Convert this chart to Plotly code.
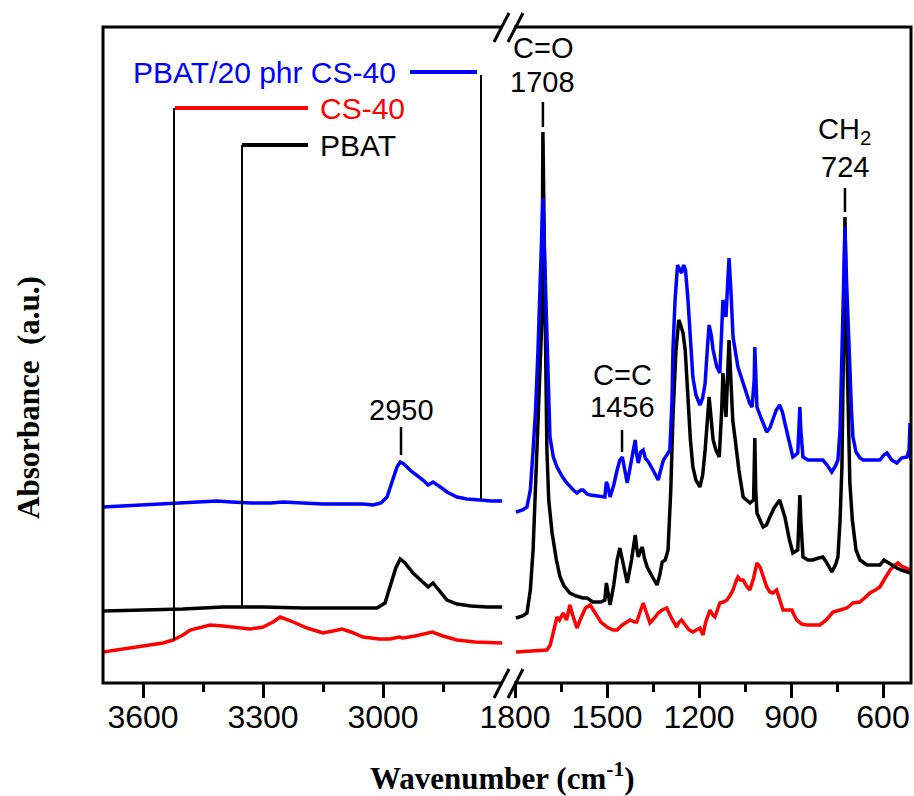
import plotly.graph_objects as go

# ---------------- data (wavenumber cm-1, absorbance a.u. with stacking offset) -------------
blue_left_wn = [3700, 3650, 3600, 3550, 3500, 3450, 3415, 3380, 3330, 3280, 3250, 3200, 3150, 3100, 3050,
                3025, 3005, 2990, 2975, 2965, 2957, 2948, 2930, 2910, 2900, 2887, 2875, 2860, 2840, 2815,
                2790, 2757, 2730, 2702]
blue_left_ab = [176, 177, 178, 179, 180, 181, 182, 181, 180, 180, 181, 180, 179, 179, 179,
                178, 180, 186, 203, 216, 221, 219, 212, 206, 203, 198, 201, 197, 191, 186,
                184, 183, 182, 182]

black_left_wn = [3700, 3600, 3500, 3400, 3300, 3200, 3100, 3015, 2995, 2980, 2968, 2957, 2945, 2925, 2900,
                 2887, 2875, 2860, 2840, 2815, 2780, 2740, 2702]
black_left_ab = [72, 73, 74, 76, 76, 75, 75, 75, 80, 98, 115, 124, 120, 110, 101,
                 96, 100, 93, 83, 79, 77, 76, 76]

red_left_wn = [3700, 3650, 3600, 3550, 3525, 3500, 3482, 3455, 3432, 3400, 3360, 3332, 3300, 3275, 3257,
               3230, 3190, 3150, 3125, 3102, 3080, 3050, 3010, 2982, 2960, 2950, 2920, 2895, 2877, 2850,
               2815, 2770, 2702]
red_left_ab = [31, 34, 37, 40, 43, 48, 53, 56, 58, 57, 55, 54, 56, 61, 66,
               62, 55, 50, 52, 54, 51, 46, 44, 44, 46, 45, 47, 49, 51, 47,
               43, 41, 40]

blue_right_wn = [1797, 1775, 1761, 1750, 1741, 1733, 1725, 1718, 1712, 1709, 1705, 1700, 1696, 1690, 1686,
                 1675, 1663, 1645, 1631, 1610, 1598, 1585, 1578, 1565, 1555, 1530, 1507, 1502, 1498, 1490,
                 1478, 1467, 1458, 1450, 1442, 1434, 1420, 1408, 1403, 1398, 1390, 1382, 1375, 1365, 1350,
                 1333, 1325, 1316, 1305, 1295, 1288, 1285, 1278, 1270, 1262, 1257, 1250, 1244, 1236, 1228,
                 1220, 1210, 1197, 1188, 1180, 1172, 1167, 1160, 1154, 1142, 1132, 1126, 1122, 1116, 1112,
                 1106, 1102, 1096, 1089, 1073, 1060, 1050, 1035, 1027, 1020, 1018, 1015, 1011, 995, 979,
                 969, 959, 948, 937, 928, 920, 905, 894, 885, 878, 873, 871, 868, 861, 845,
                 829, 810, 796, 785, 767, 755, 747, 740, 734, 729, 724, 719, 714, 708, 703,
                 698, 688, 675, 665, 640, 610, 597, 587, 572, 555, 540, 522, 515, 512, 510]
blue_right_ab = [171, 173, 176, 193, 233, 273, 333, 393, 443, 485, 443, 383, 333, 283, 246,
                 226, 216, 206, 200, 193, 190, 193, 193, 189, 188, 187, 186, 201, 198, 186,
                 198, 213, 223, 226, 213, 200, 223, 243, 228, 220, 231, 233, 225, 221, 213,
                 203, 213, 223, 228, 233, 283, 333, 383, 418, 413, 410, 418, 413, 383, 343,
                 306, 288, 278, 285, 300, 338, 358, 348, 333, 316, 310, 353, 383, 378, 366,
                 403, 425, 393, 346, 316, 303, 293, 280, 276, 303, 336, 303, 276, 263, 251,
                 255, 263, 273, 278, 271, 260, 238, 226, 228, 230, 263, 276, 253, 226, 223,
                 223, 223, 223, 219, 211, 217, 223, 253, 333, 403, 456, 403, 353, 316, 273,
                 246, 231, 225, 223, 223, 223, 228, 230, 223, 220, 225, 226, 233, 260, 223]

black_right_wn = [1797, 1775, 1761, 1750, 1741, 1733, 1725, 1718, 1712, 1709, 1705, 1700, 1696, 1690, 1679,
                  1665, 1653, 1640, 1621, 1600, 1578, 1565, 1546, 1520, 1507, 1502, 1498, 1490, 1478, 1467,
                  1458, 1450, 1442, 1434, 1420, 1408, 1403, 1398, 1390, 1385, 1378, 1369, 1350, 1337, 1328,
                  1320, 1310, 1301, 1292, 1285, 1275, 1266, 1262, 1252, 1245, 1236, 1228, 1220, 1210, 1197,
                  1188, 1180, 1172, 1167, 1160, 1154, 1145, 1134, 1126, 1122, 1116, 1112, 1106, 1102, 1096,
                  1090, 1083, 1070, 1056, 1034, 1022, 1018, 1015, 1011, 991, 980, 969, 955, 937, 928,
                  920, 905, 894, 878, 873, 871, 868, 861, 845, 829, 810, 796, 785, 767, 755,
                  747, 740, 734, 729, 724, 719, 714, 708, 700, 688, 675, 652, 630, 610, 597,
                  587, 570, 555, 540, 522, 510]
black_right_ab = [65, 67, 70, 93, 133, 193, 266, 323, 366, 551, 433, 303, 233, 183, 150,
                  123, 106, 97, 90, 87, 85, 85, 81, 81, 83, 100, 93, 78, 98, 123,
                  135, 123, 108, 100, 123, 148, 135, 126, 133, 136, 125, 116, 105, 98, 108,
                  121, 123, 133, 193, 266, 333, 363, 360, 350, 333, 283, 243, 216, 203, 196,
                  208, 233, 268, 286, 263, 243, 233, 226, 273, 310, 283, 266, 313, 343, 303,
                  263, 246, 213, 186, 180, 183, 245, 193, 170, 156, 158, 166, 175, 183, 175,
                  166, 143, 130, 133, 173, 188, 163, 126, 123, 123, 125, 126, 121, 111, 118,
                  126, 163, 216, 333, 466, 353, 263, 200, 163, 133, 123, 118, 118, 118, 123,
                  121, 117, 115, 113, 111, 110]

red_right_wn = [1797, 1760, 1730, 1696, 1685, 1673, 1663, 1655, 1643, 1632, 1621, 1612, 1598, 1585, 1570,
                1555, 1540, 1520, 1500, 1480, 1467, 1450, 1435, 1425, 1410, 1403, 1392, 1382, 1372, 1360,
                1345, 1333, 1320, 1305, 1290, 1273, 1265, 1257, 1245, 1232, 1220, 1208, 1197, 1187, 1178,
                1164, 1155, 1148, 1140, 1132, 1120, 1109, 1100, 1089, 1080, 1073, 1065, 1056, 1045, 1034,
                1022, 1011, 1001, 990, 979, 969, 959, 947, 937, 926, 912, 897, 890, 881, 865,
                848, 825, 806, 785, 763, 740, 718, 698, 676, 660, 643, 625, 610, 593, 577,
                562, 551, 540, 522, 510]
red_right_ab = [31, 32, 32, 33, 38, 55, 66, 63, 70, 63, 78, 68, 55, 65, 75,
                78, 71, 61, 56, 53, 53, 58, 61, 63, 61, 61, 71, 80, 71, 60,
                65, 70, 73, 75, 65, 56, 61, 63, 58, 53, 51, 53, 55, 48, 61,
                73, 68, 66, 73, 80, 81, 83, 87, 93, 101, 106, 103, 103, 97, 93,
                105, 120, 116, 105, 96, 91, 90, 93, 83, 73, 73, 73, 68, 63, 59,
                58, 58, 58, 63, 71, 73, 75, 80, 81, 85, 90, 93, 96, 105, 113,
                118, 120, 117, 115, 113]

left_ticks = [3600, 3300, 3000]
left_minor = [3450, 3150, 2850]
right_ticks = [1800, 1500, 1200, 900, 600]
right_minor = [1650, 1350, 1050, 750]

series_names = ["PBAT/20 phr CS-40", "CS-40", "PBAT"]
peak_labels = [("2950", None, 2955), ("C=O", "1708", 1709), ("C=C", "1456", 1451), ("CH<sub>2</sub>", "724", 724)]

# ---------------- figure ----------------
W, H = 914, 796
# plot frame in window pixels
FX0, FX1, FY0, FY1 = 103, 911, 27, 683
L, R, T, B = FX0, W - FX1, FY0, H - FY1
PW, PH = FX1 - FX0, FY1 - FY0


def px(x):
    return (x - FX0) / PW


def py(y):
    return (FY1 - y) / PH


BLUE, RED, BLACK = "#0000ff", "#ff0000", "#000000"
LW = 3.5

fig = go.Figure()
for xs, ys, col, xa in [
    (red_left_wn, red_left_ab, RED, "x"), (red_right_wn, red_right_ab, RED, "x2"),
    (black_left_wn, black_left_ab, BLACK, "x"), (black_right_wn, black_right_ab, BLACK, "x2"),
    (blue_left_wn, blue_left_ab, BLUE, "x"), (blue_right_wn, blue_right_ab, BLUE, "x2"),
]:
    fig.add_trace(go.Scatter(x=xs, y=ys, mode="lines", line=dict(color=col, width=LW),
                             xaxis=xa, yaxis="y", showlegend=False, hoverinfo="skip"))

tickfont = dict(family="Liberation Sans, Arial", size=32, color="black")
axis_common = dict(showline=False, showgrid=False, zeroline=False, ticks="outside", ticklen=14,
                   tickwidth=3, tickcolor="black", tickfont=tickfont, automargin=False, anchor="y",
                   ticklabelstandoff=-8)

fig.update_layout(
    width=W, height=H, margin=dict(l=L, r=R, t=T, b=B),
    paper_bgcolor="white", plot_bgcolor="white",
    xaxis=dict(domain=[0, px(503)], range=[3700, 2700], tickmode="array", tickvals=left_ticks,
               ticktext=[str(v) for v in left_ticks],
               minor=dict(tickmode="array", tickvals=left_minor, ticks="outside", ticklen=8,
                          tickwidth=3, tickcolor="black", showgrid=False), **axis_common),
    xaxis2=dict(domain=[px(507), 1], range=[1800 + (515 - 507) / 0.3067, 600 - (911 - 883) / 0.3067],
                tickmode="array", tickvals=right_ticks, ticktext=[str(v) for v in right_ticks],
                minor=dict(tickmode="array", tickvals=right_minor, ticks="outside", ticklen=8,
                           tickwidth=3, tickcolor="black", showgrid=False), **axis_common),
    yaxis=dict(domain=[0, 1], range=[0, PH], visible=False, fixedrange=True),
)

shapes = []
# frame
shapes.append(dict(type="rect", xref="paper", yref="paper", x0=0, x1=1, y0=0, y1=1,
                   line=dict(color="black", width=3)))
# axis breaks (top and bottom)
for yc in (FY1, FY0):
    shapes.append(dict(type="rect", xref="paper", yref="paper", x0=px(502), x1=px(514),
                       y0=py(yc + 4), y1=py(yc - 4), fillcolor="white", line=dict(width=0)))
    for x0 in (494, 508):
        shapes.append(dict(type="line", xref="paper", yref="paper", x0=px(x0), y0=py(yc + 15),
                           x1=px(x0 + 15), y1=py(yc - 14), line=dict(color="black", width=3)))

# legend lines + connectors (left panel data coords)
leg = [  # (line x0, x1, y, colour, connector x, connector bottom y, connector top y)
    (2932.5, 2765, 611, BLUE, 2755, 183, 608),
    (3520, 3187.5, 575, RED, 3522.5, 43, 575),
    (3352.5, 3187.5, 538, BLACK, 3352.5, 76, 538),
]
for x0, x1, yy, col, cx, cb, ct in leg:
    shapes.append(dict(type="line", xref="x", yref="y", x0=x0, x1=x1, y0=yy, y1=yy,
                       line=dict(color=col, width=4)))
    shapes.append(dict(type="line", xref="x", yref="y", x0=cx, x1=cx, y0=ct, y1=cb,
                       line=dict(color="black", width=2)))

# peak marker lines
peak_lines = [("x", 2955, 256, 228), ("x2", 1709, 581, 556), ("x2", 1451, 253, 231), ("x2", 724, 495, 471)]
for xr, xv, y0, y1 in peak_lines:
    shapes.append(dict(type="line", xref=xr, yref="y", x0=xv, x1=xv, y0=y0, y1=y1,
                       line=dict(color="black", width=2.5)))
fig.update_layout(shapes=shapes)

afont = dict(family="Liberation Sans, Arial", size=29, color="black")
ann = []
ann.append(dict(x=2962.5, y=611, xref="x", yref="y", text=series_names[0], xanchor="right",
                yanchor="middle", showarrow=False, font=dict(afont, size=30, color=BLUE)))
ann.append(dict(x=3162.5, y=575, xref="x", yref="y", text=series_names[1], xanchor="left",
                yanchor="middle", showarrow=False, font=dict(afont, size=30, color=RED)))
ann.append(dict(x=3162.5, y=538, xref="x", yref="y", text=series_names[2], xanchor="left",
                yanchor="middle", showarrow=False, font=dict(afont, size=30, color=BLACK)))

peak_text_pos = [("x", 273, None), ("x2", 635, 601), ("x2", 308, 276), ("x2", 552, 516)]
for (t1, t2, xv), (xr, y1, y2) in zip(peak_labels, peak_text_pos):
    ann.append(dict(x=xv, y=y1, xref=xr, yref="y", text=t1, showarrow=False, xanchor="center",
                    yanchor="middle", font=afont))
    if t2:
        ann.append(dict(x=xv, y=y2, xref=xr, yref="y", text=t2, showarrow=False, xanchor="center",
                        yanchor="middle", font=afont))

tfont = dict(family="Liberation Serif, Times New Roman", size=31, color="black", weight="bold")
ann.append(dict(x=px(502), y=py(776), xref="paper", yref="paper", text="Wavenumber (cm<sup>-1</sup>)",
                showarrow=False, xanchor="center", yanchor="middle", font=tfont))
ann.append(dict(x=px(28), y=py(398), xref="paper", yref="paper", text="Absorbance\u00a0\u00a0(a.u.)",
                showarrow=False, xanchor="center", yanchor="middle", textangle=-90, font=tfont))
fig.update_layout(annotations=ann)

fig.write_html("out.html", config={"displayModeBar": False},
               post_script="document.body.style.margin='0';document.body.style.overflow='hidden';")
